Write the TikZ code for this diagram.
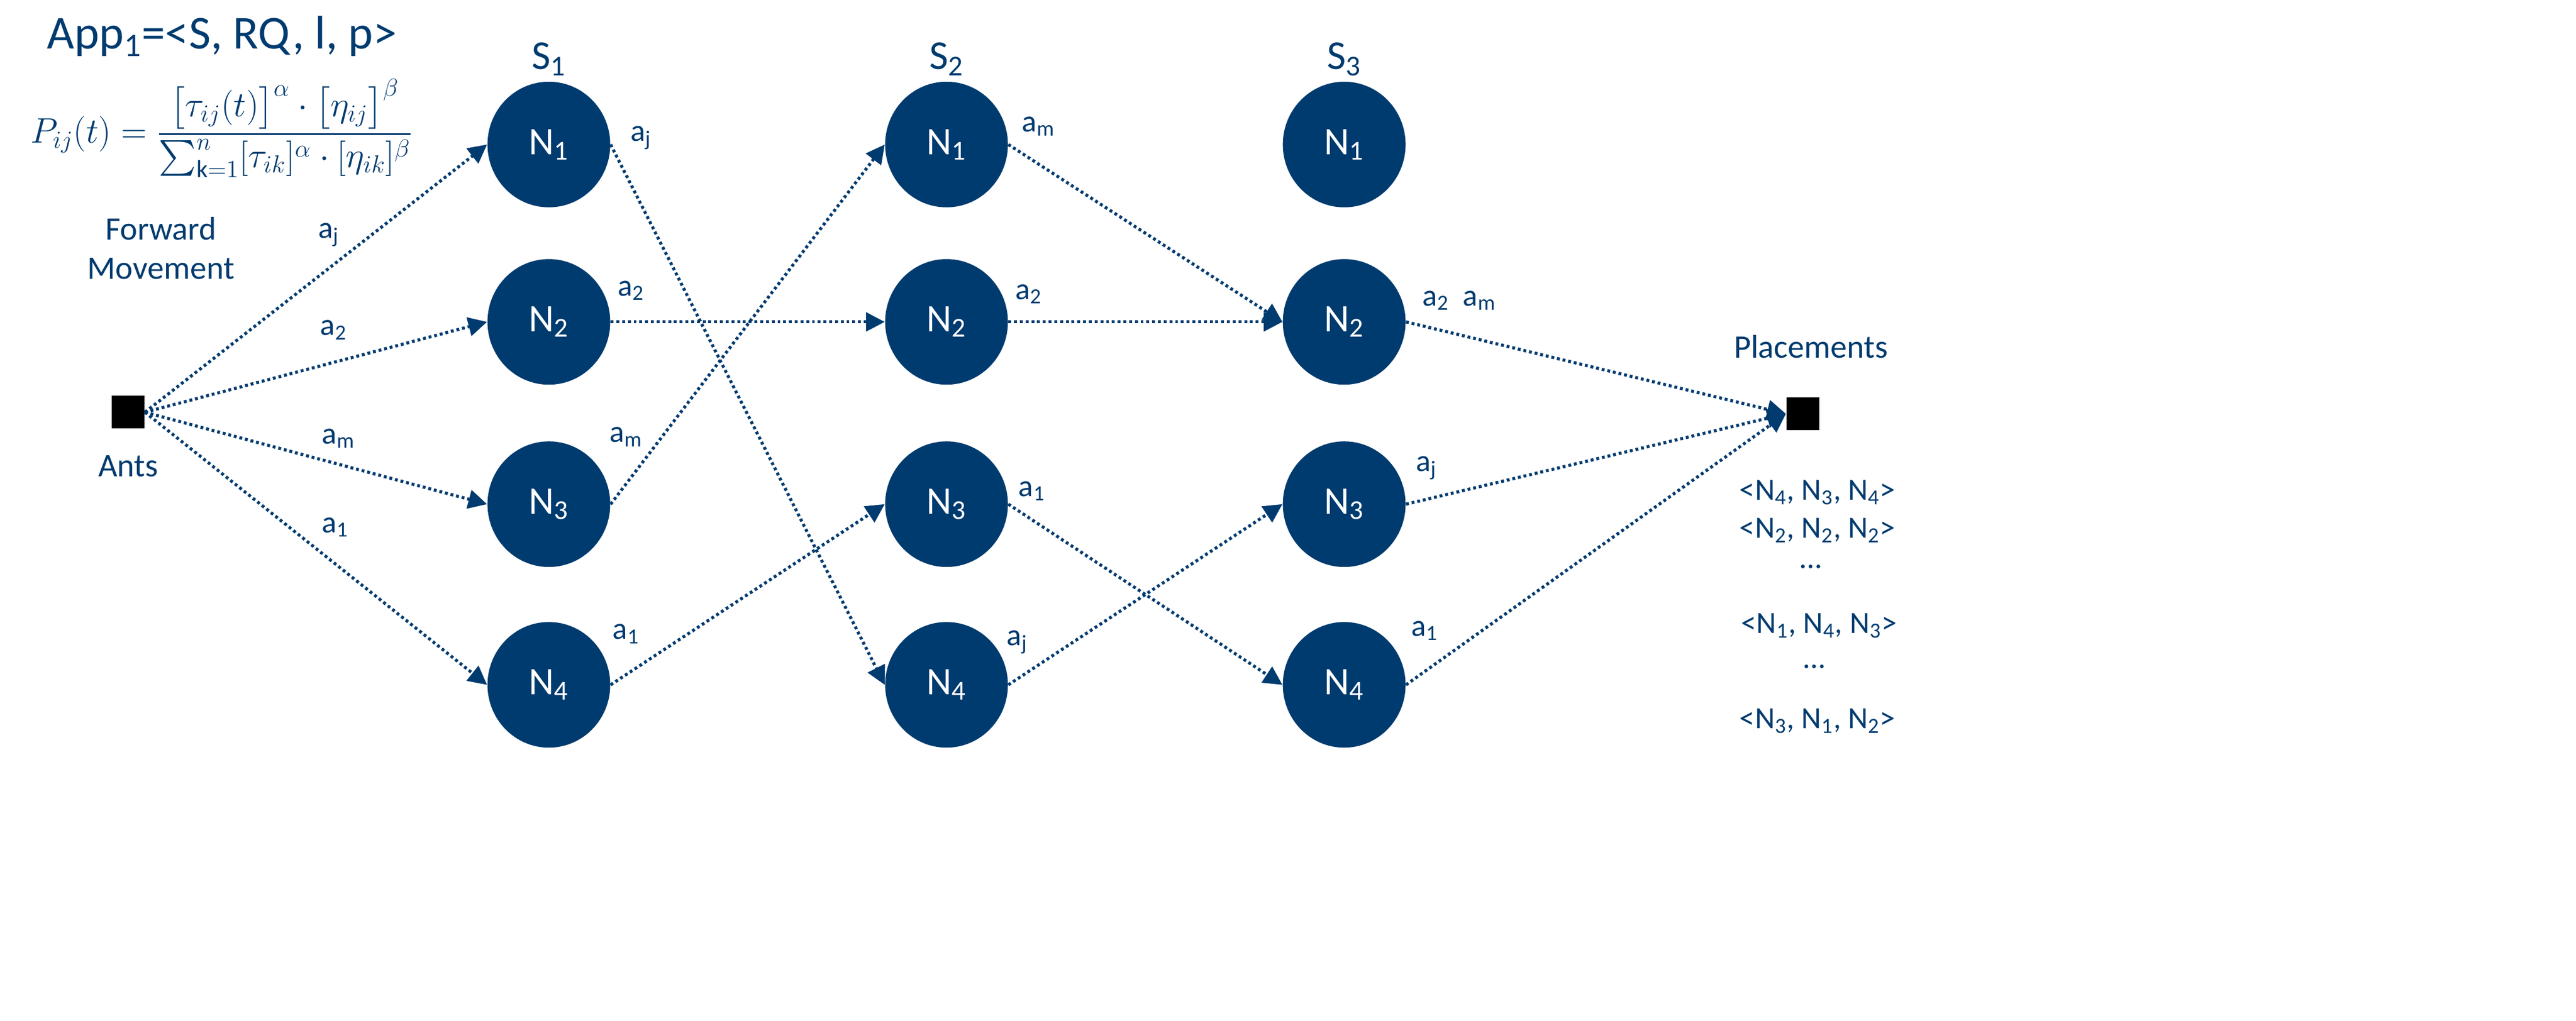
\documentclass[tikz,border=0pt]{standalone}
\usepackage{fontspec}
\usepackage{amsmath}
\setmainfont{Carlito}
\usetikzlibrary{arrows.meta,shapes.geometric}
\definecolor{nb}{RGB}{0,59,111}
\begin{document}
\begin{tikzpicture}[x=0.2811mm,y=-0.2811mm,
  nd/.style={ellipse,fill=nb,minimum width=21mm,minimum height=21.5mm,inner sep=0pt,text=white,font=\fontsize{19}{22}\selectfont},
  sq/.style={rectangle,fill=black,minimum width=5.6mm,minimum height=5.6mm,inner sep=0pt},
  lb/.style={text=nb,font=\fontsize{15}{18}\selectfont,inner sep=1pt},
  ed/.style={nb,line width=1.5pt,dash pattern=on 1.4pt off 1.4pt,-{Triangle[length=3.2mm,width=3.2mm]}},
  ]
\useasboundingbox (0,0) rectangle (1567.6,621.7);
\node[text=nb,font=\fontsize{23}{26}\selectfont,inner sep=0pt] (app) at (135,22) {App\textsubscript{1}=<S, RQ, l, p>};
\node[text=nb,font=\fontsize{17}{20}\selectfont,inner sep=0pt] (form) at (135,78) {$P_{ij}(t)=\dfrac{\bigl[\tau_{ij}(t)\bigr]^{\alpha}\cdot\bigl[\eta_{ij}\bigr]^{\beta}}{\sum_{\mathrm{k}=1}^{n}[\tau_{ik}]^{\alpha}\cdot[\eta_{ik}]^{\beta}}$};
\node[lb,align=center,font=\fontsize{16}{19}\selectfont] (fm) at (98,151) {Forward\\Movement};
\node[sq] (ants) at (78,251) {};
\node[lb,font=\fontsize{16}{19}\selectfont] (antsl) at (78,284) {Ants};
\node[sq] (pl) at (1097,252) {};
\node[lb,font=\fontsize{16}{19}\selectfont] (pll) at (1102,211) {Placements};
\foreach \s/\x in {1/334,2/576,3/818}{
  \node[lb,font=\fontsize{20}{24}\selectfont] (S\s) at (\x,36) {S\textsubscript{\s}};
  \foreach \r/\y in {1/88,2/196,3/307,4/417}{
    \node[nd] (n\s\r) at (\x,\y) {N\textsubscript{\r}};
  }
}
\draw[ed] (ants.east) -- (n11.west);
\draw[ed] (ants.east) -- (n12.west);
\draw[ed] (ants.east) -- (n13.west);
\draw[ed] (ants.east) -- (n14.west);
\draw[ed] (n11.east) -- (n24.west);
\draw[ed] (n12.east) -- (n22.west);
\draw[ed] (n13.east) -- (n21.west);
\draw[ed] (n14.east) -- (n23.west);
\draw[ed] (n21.east) -- (n32.west);
\draw[ed] (n22.east) -- (n32.west);
\draw[ed] (n23.east) -- (n34.west);
\draw[ed] (n24.east) -- (n33.west);
\draw[ed] (n32.east) -- (pl.west);
\draw[ed] (n33.east) -- (pl.west);
\draw[ed] (n34.east) -- (pl.west);
\node[lb] (l1) at (200,143) {a\textsubscript{j}};
\node[lb] (l2) at (203,201) {a\textsubscript{2}};
\node[lb] (l3) at (206,267) {a\textsubscript{m}};
\node[lb] (l4) at (204,321) {a\textsubscript{1}};
\node[lb] (l5) at (390,84) {a\textsubscript{j}};
\node[lb] (l6) at (384,177) {a\textsubscript{2}};
\node[lb] (l7) at (381,266) {a\textsubscript{m}};
\node[lb] (l8) at (381,386) {a\textsubscript{1}};
\node[lb] (l9) at (632,77) {a\textsubscript{m}};
\node[lb] (l10) at (626,179) {a\textsubscript{2}};
\node[lb] (l11) at (628,299) {a\textsubscript{1}};
\node[lb] (l12) at (619,391) {a\textsubscript{j}};
\node[lb] (l13) at (888,183) {a\textsubscript{2}\ \ a\textsubscript{m}};
\node[lb] (l14) at (868,285) {a\textsubscript{j}};
\node[lb] (l15) at (867,384) {a\textsubscript{1}};
\node[lb] (p1) at (1106,300) {<N\textsubscript{4}, N\textsubscript{3}, N\textsubscript{4}>};
\node[lb] (p2) at (1106,323) {<N\textsubscript{2}, N\textsubscript{2}, N\textsubscript{2}>};
\node[lb] (p3) at (1102,345) {\dots};
\node[lb] (p4) at (1107,381) {<N\textsubscript{1}, N\textsubscript{4}, N\textsubscript{3}>};
\node[lb] (p5) at (1104,406) {\dots};
\node[lb] (p6) at (1106,439) {<N\textsubscript{3}, N\textsubscript{1}, N\textsubscript{2}>};
\end{tikzpicture}
\end{document}
